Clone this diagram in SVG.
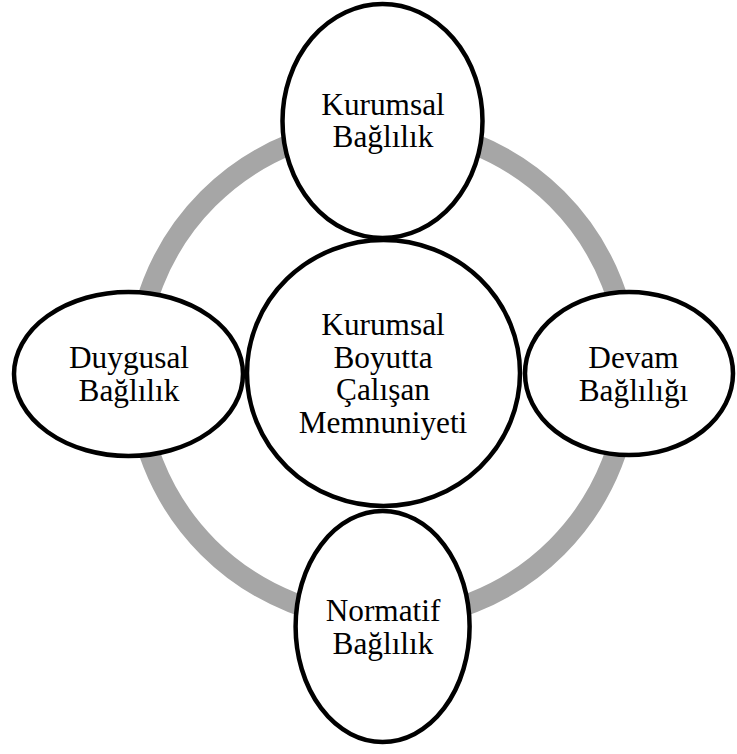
<svg xmlns="http://www.w3.org/2000/svg" width="737" height="754" viewBox="0 0 737 754">
<style>
.ring{fill:none;stroke:#a6a6a6;stroke-width:21}
.node{fill:#ffffff;stroke:#000000;stroke-width:4.5}
text{font-family:"Liberation Serif","Times New Roman",serif;font-size:31.3px;fill:#000000;text-anchor:middle}
</style>
<rect x="0" y="0" width="737" height="754" fill="#ffffff"/>
<g id="connectors">
<circle class="ring" cx="382.5" cy="373" r="246.5"/>
</g>
<g id="center">
<ellipse class="node" cx="383.5" cy="373" rx="136.5" ry="133"/>
<text x="383" y="335">Kurumsal</text>
<text x="383" y="367.5">Boyutta</text>
<text x="383" y="400">Çalışan</text>
<text x="383" y="433">Memnuniyeti</text>
</g>
<g id="top">
<ellipse class="node" cx="382.5" cy="121" rx="100" ry="117"/>
<text x="383" y="114.5">Kurumsal</text>
<text x="383" y="147">Bağlılık</text>
</g>
<g id="left">
<ellipse class="node" cx="128.5" cy="374" rx="114.5" ry="82"/>
<text x="129" y="367.5">Duygusal</text>
<text x="129" y="400.5">Bağlılık</text>
</g>
<g id="right">
<ellipse class="node" cx="629" cy="373.5" rx="104" ry="81.5"/>
<text x="633.5" y="368">Devam</text>
<text x="633.5" y="400.5">Bağlılığı</text>
</g>
<g id="bottom">
<ellipse class="node" cx="382.6" cy="626.5" rx="87" ry="115.5"/>
<text x="383" y="621">Normatif</text>
<text x="383" y="654">Bağlılık</text>
</g>
</svg>
